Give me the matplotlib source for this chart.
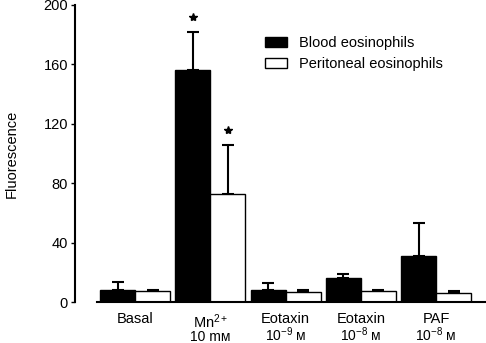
import matplotlib
matplotlib.use("Agg")
import matplotlib.pyplot as plt
from matplotlib.patches import Patch
import numpy as np

plt.rcParams['font.family'] = ['Liberation Sans', 'DejaVu Sans']
plt.rcParams['mathtext.fontset'] = 'custom'
plt.rcParams['mathtext.rm'] = 'Liberation Sans'
plt.rcParams['mathtext.it'] = 'Liberation Sans'

categories = ["Basal", "Mn$^{2+}$", "Eotaxin", "Eotaxin", "PAF"]
sublabels = ["", "10 m\u1d0d", "10$^{-9}$ \u1d0d", "10$^{-8}$ \u1d0d", "10$^{-8}$ \u1d0d"]
blood = [8, 156, 8, 16, 31]
blood_err = [5.5, 26, 4.5, 3, 22]
perit = [7.3, 73, 7, 7.2, 6.3]
perit_err = [0.7, 33, 0.9, 1.0, 1.0]
sig_blood = [False, True, False, False, False]
sig_perit = [False, True, False, False, False]

FS = 10.5
fig = plt.figure(figsize=(4.86, 3.43), dpi=100)
ax = fig.add_axes([75/486, 1-302/343, 410/486, 297/343])

x = np.arange(len(categories))
w = 0.465
ax.bar(x - w/2, blood, w, color='black', edgecolor='black', linewidth=1.0, zorder=2)
ax.bar(x + w/2, perit, w, color='white', edgecolor='black', linewidth=1.0, zorder=2)
ax.errorbar(x - w/2, blood, yerr=[np.zeros(len(blood)), blood_err], fmt='none',
            ecolor='black', elinewidth=1.5, capsize=4, capthick=1.5, zorder=1)
ax.errorbar(x + w/2, perit, yerr=[np.zeros(len(perit)), perit_err], fmt='none',
            ecolor='black', elinewidth=1.5, capsize=4, capthick=1.5, zorder=1)

for i in range(len(x)):
    if sig_blood[i]:
        ax.plot(x[i] - w/2, blood[i] + blood_err[i] + 10, marker='*', color='black',
                markersize=6, linestyle='none')
    if sig_perit[i]:
        ax.plot(x[i] + w/2, perit[i] + perit_err[i] + 10, marker='*', color='black',
                markersize=6, linestyle='none')

ax.set_xlim(-0.797, 4.648)
ax.set_ylim(0, 200)
ax.set_yticks([0, 40, 80, 120, 160, 200])
ax.tick_params(axis='y', direction='out', length=3, width=1, labelsize=FS, pad=2)
for s in ['top', 'right', 'bottom']:
    ax.spines[s].set_visible(False)
ax.spines['left'].set_linewidth(1.5)
ax.plot([-0.505, 4.648], [0, 0], color='black', linewidth=1.5, clip_on=False, zorder=3)

ax.set_xticks(x)
ax.set_xticklabels(categories, fontsize=FS)
ax.tick_params(axis='x', length=0, pad=7.5)
for i, s in enumerate(sublabels):
    ax.text(x[i], -(341 - 302) / 297, s, transform=ax.get_xaxis_transform(),
            ha='center', va='baseline', fontsize=10)

ax.set_ylabel("Fluorescence", fontsize=FS, labelpad=18)

handles = [Patch(facecolor='black', edgecolor='black', label='Blood eosinophils'),
           Patch(facecolor='white', edgecolor='black', label='Peritoneal eosinophils')]
ax.legend(handles=handles, loc='upper left', bbox_to_anchor=((265 - 75) / 410, 1 - (36 - 5) / 297),
          frameon=False, fontsize=FS, handlelength=1.5, handleheight=0.7, handletextpad=0.8,
          labelspacing=0.5, borderpad=0, borderaxespad=0)

fig.savefig("out.png", dpi=100)
